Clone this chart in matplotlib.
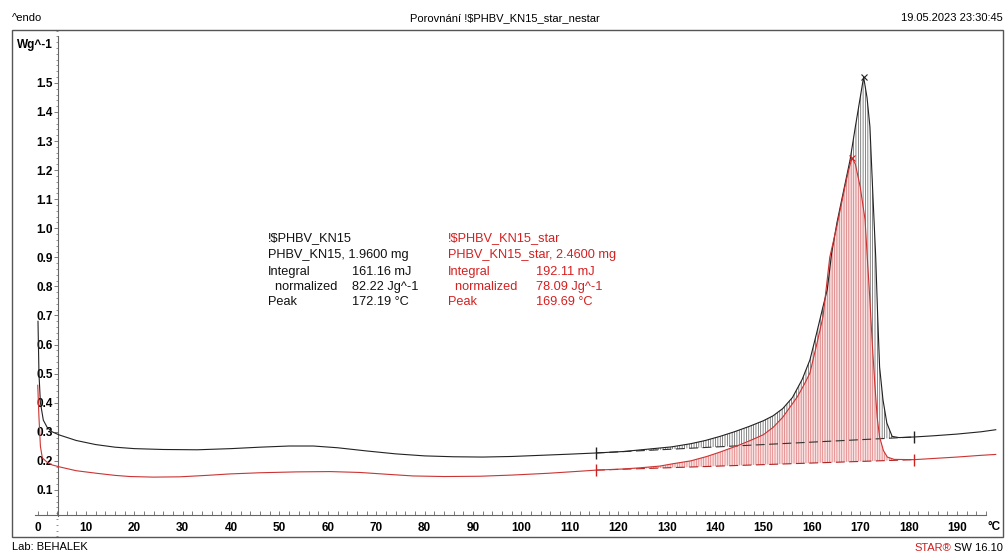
import numpy as np
import matplotlib
matplotlib.use("Agg")
import matplotlib.pyplot as plt
from matplotlib.patches import Rectangle
from matplotlib.ticker import MultipleLocator, FixedLocator

# ---------------- data ----------------
t_black = [0.1, 0.3, 0.6, 1.2, 2, 3, 4.5, 8, 12, 16, 20, 26, 33, 40, 46, 52, 57, 62, 68,
           74, 80, 86, 92, 98, 104, 110, 115.4, 121, 126, 131, 135, 138, 141, 144, 147,
           150, 152, 154, 156, 158, 159.6, 161, 162.3, 163.2, 164.1, 165.2, 166.2, 167.9,
           169, 170, 170.7, 171.4, 172, 172.6, 173.2, 173.6, 174, 174.7, 175.5, 176.6,
           178, 181.1, 185, 190, 195, 198]
v_black = [0.68, 0.50, 0.40, 0.34, 0.315, 0.30, 0.289, 0.27, 0.256, 0.247, 0.242, 0.239,
           0.238, 0.242, 0.247, 0.251, 0.251, 0.245, 0.234, 0.224, 0.217, 0.214, 0.213,
           0.215, 0.219, 0.223, 0.227, 0.232, 0.24, 0.248, 0.259, 0.27, 0.284, 0.30,
           0.318, 0.338, 0.355, 0.38, 0.418, 0.48, 0.547, 0.64, 0.73, 0.79, 0.915, 1.02,
           1.10, 1.235, 1.35, 1.45, 1.52, 1.45, 1.35, 1.12, 0.90, 0.70, 0.523, 0.41,
           0.33, 0.284, 0.28, 0.282, 0.286, 0.292, 0.30, 0.307]

t_red = [0.05, 0.3, 0.6, 1, 2, 3, 4.6, 8, 12.3, 16, 19.1, 24, 29.4, 35, 39.8, 46, 53.6,
         60.5, 66.6, 72, 77.6, 84, 91.4, 98, 105.3, 110, 115.4, 121, 124.5, 128.6, 131.3,
         135, 138.3, 141, 145.1, 148, 150, 152, 154, 155.5, 157, 158.5, 159.6, 161,
         162.3, 163.7, 165.2, 166.8, 167.6, 168.3, 169, 170, 171, 171.4, 172, 172.5, 173,
         173.5, 174, 174.8, 175.6, 177, 181.1, 185, 190, 195, 198]
v_red = [0.46, 0.35, 0.25, 0.21, 0.195, 0.186, 0.179, 0.166, 0.157, 0.15, 0.146, 0.144,
         0.145, 0.15, 0.155, 0.159, 0.162, 0.163, 0.16, 0.154, 0.148, 0.146, 0.147, 0.151,
         0.157, 0.162, 0.168, 0.172, 0.176, 0.182, 0.19, 0.20, 0.215, 0.23, 0.255, 0.275,
         0.29, 0.315, 0.35, 0.385, 0.42, 0.465, 0.502, 0.60, 0.695, 0.90, 1.01, 1.14,
         1.20, 1.242, 1.22, 1.142, 1.029, 0.915, 0.753, 0.60, 0.468, 0.35, 0.282, 0.235,
         0.213, 0.205, 0.204, 0.208, 0.213, 0.219, 0.222]

# integration limits and baseline end values
lim_t = [115.4, 181.1]
base_black = [0.227, 0.282]
base_red = [0.168, 0.204]
peak_black = (170.7, 1.52)
peak_red = (168.3, 1.242)

x_ticks = list(range(0, 200, 10))
x_minor = list(range(0, 198, 2))
y_ticks = [round(0.1 * i, 1) for i in range(1, 16)]

info_black = ["!$PHBV_KN15", "PHBV_KN15, 1.9600 mg"]
rows_black = [("Integral", "161.16 mJ"), ("  normalized", "82.22 Jg^-1"), ("Peak", "172.19 °C")]
info_red = ["!$PHBV_KN15_star", "PHBV_KN15_star, 2.4600 mg"]
rows_red = [("Integral", "192.11 mJ"), ("  normalized", "78.09 Jg^-1"), ("Peak", "169.69 °C")]

# ---------------- figure ----------------
plt.rcParams['font.family'] = ['Liberation Sans', 'DejaVu Sans']
plt.rcParams['hatch.linewidth'] = 0.5
W, H = 1008, 555
fig = plt.figure(figsize=(W / 100, H / 100), dpi=100)
fig.patch.set_facecolor('white')

def fx(px):
    return px / W

def fy(py):
    return 1 - py / H

# outer frame
box_l, box_r, box_t, box_b = 12, 1003, 30, 537
fig.patches.append(Rectangle((fx(box_l), fy(box_b)), fx(box_r) - fx(box_l), fy(box_t) - fy(box_b),
                             transform=fig.transFigure, fill=False, edgecolor='#555555', lw=1.0))

ax = fig.add_axes([fx(box_l), fy(box_b), fx(box_r) - fx(box_l), fy(box_t) - fy(box_b)])
ax.set_facecolor('none')
ax.set_xlim(-5.27, 199.5)
ax.set_ylim(-0.062, 1.682)

for s in ['top', 'right']:
    ax.spines[s].set_visible(False)
ax.spines['left'].set_position(('data', 4.3))
ax.spines['left'].set_bounds(0.01, 1.66)
ax.spines['bottom'].set_position(('data', 0.012))
ax.spines['bottom'].set_bounds(-0.5, 196)
for s in ['left', 'bottom']:
    ax.spines[s].set_color('#666666')
    ax.spines[s].set_linewidth(0.8)

ax.xaxis.set_major_locator(FixedLocator(x_ticks))
ax.xaxis.set_minor_locator(FixedLocator(x_minor))
ax.yaxis.set_major_locator(FixedLocator(y_ticks))
ax.yaxis.set_minor_locator(MultipleLocator(0.02))
ax.tick_params(axis='x', which='both', direction='in', length=3, width=0.6, color='#666666',
               pad=5, labelsize=8.5)
ax.tick_params(axis='y', which='major', direction='out', length=3, width=0.6, color='#666666',
               pad=1, labelsize=8.5)
ax.tick_params(axis='y', which='minor', direction='out', length=1.5, width=0.5, color='#666666')
for lab in ax.get_xticklabels():
    lab.set_fontweight('bold')
ax.set_yticklabels([f"{v:.1f}" for v in y_ticks], fontweight='bold')

ax.text(3.1, 1.63, "Wg^-1", ha='right', va='center', fontsize=8.5, fontweight='bold')
ax.text(197.6, -0.027, "°C", ha='center', va='center', fontsize=8.5, fontweight='bold')

tb = np.array(t_black); vb = np.array(v_black)
tr = np.array(t_red); vr = np.array(v_red)
bb = np.interp(tb, lim_t, base_black)
br = np.interp(tr, lim_t, base_red)
mb = (tb >= lim_t[0]) & (tb <= lim_t[1])
mr = (tr >= lim_t[0]) & (tr <= lim_t[1])

# integration areas
ax.fill_between(tb, bb, vb, where=mb, facecolor='none', edgecolor='#555555',
                hatch='|||||||', linewidth=0, zorder=2)
ax.fill_between(tr, br, vr, where=mr, facecolor='#f9dada', edgecolor='#dd6a6a',
                hatch='|||||||', linewidth=0, alpha=0.85, zorder=3)

# baselines
ax.plot(lim_t, base_black, color='#333333', lw=0.8, dashes=(8, 4), zorder=4)
ax.plot(lim_t, base_red, color='#b22222', lw=0.8, dashes=(8, 4), zorder=4)

# curves
ax.plot(tb, vb, color='#222222', lw=0.8, zorder=5)
ax.plot(tr, vr, color='#cc3333', lw=0.8, zorder=5)

# limit markers
ax.plot(lim_t, base_black, ls='none', marker='|', ms=8, mew=1.0, color='#222222', zorder=6)
ax.plot(lim_t, base_red, ls='none', marker='|', ms=8, mew=1.0, color='#cc2222', zorder=6)

# peak markers
ax.plot([peak_black[0]], [peak_black[1]], marker='x', ms=4, mew=0.8, color='#222222', zorder=6)
ax.plot([peak_red[0]], [peak_red[1]], marker='x', ms=4, mew=0.8, color='#cc2222', zorder=6)

# annotation blocks (pixel rows: 238, 255, 273, 287, 302)
def vpx(py):
    return (519 - py) / 290.7

def block(x0, x1, lines, rows, color):
    fs = 9.2
    for ln, py in zip(lines, [238, 255]):
        ax.text(x0, vpx(py), ln, color=color, fontsize=fs, va='center', ha='left')
    for (lab, val), py in zip(rows, [272, 287, 302]):
        ax.text(x0, vpx(py), lab, color=color, fontsize=fs, va='center', ha='left')
        ax.text(x1, vpx(py), val, color=color, fontsize=fs, va='center', ha='left')

block(47.6, 65.0, info_black, rows_black, '#111111')
block(84.8, 103.0, info_red, rows_red, '#d42020')

# header / footer
fig.text(fx(12), fy(18), "^endo", fontsize=8, va='center', ha='left')
fig.text(fx(505), fy(18), "Porovnání !$PHBV_KN15_star_nestar", fontsize=8, va='center', ha='center')
fig.text(fx(1003), fy(18), "19.05.2023 23:30:45", fontsize=8, va='center', ha='right')
fig.text(fx(12), fy(547), "Lab: BEHALEK", fontsize=8, va='center', ha='left')
fig.text(fx(1003), fy(548), "SW 16.10", fontsize=8, va='center', ha='right')
fig.text(fx(951), fy(548), "STAR®", fontsize=8, va='center', ha='right', color='#cc2020')

fig.savefig("out.png", dpi=100, facecolor='white')
